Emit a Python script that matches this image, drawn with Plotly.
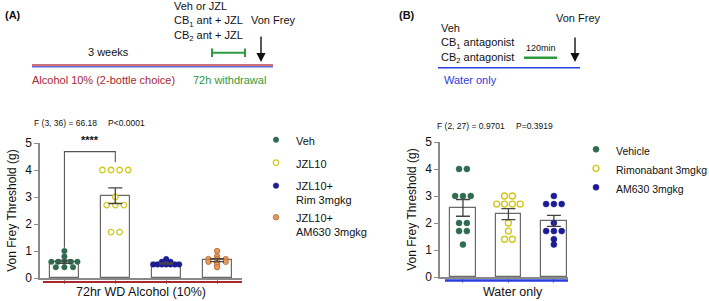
import numpy as np
import plotly.graph_objects as go

# ---------------- data ----------------
left_labels = ["Veh", "JZL10", "JZL10+<br>Rim 3mgkg", "JZL10+<br>AM630 3mgkg"]
veh_a = [1.0, 0.8, 0.6, 0.6, 0.6, 0.6, 0.6, 0.4, 0.4, 0.4]
jzl_a = [4.0, 4.0, 4.0, 4.0, 3.0, 2.7, 2.7, 2.7, 1.7, 1.7]
rim_a = [0.7, 0.6, 0.6, 0.5, 0.5, 0.5, 0.5, 0.5, 0.5, 0.5]
am_a = [1.0, 0.8, 0.7, 0.7, 0.7, 0.6, 0.6, 0.6, 0.5, 0.4]

right_labels = ["Vehicle", "Rimonabant 3mgkg", "AM630 3mgkg"]
veh_b = [4.0, 4.0, 3.0, 3.0, 3.0, 2.0, 2.0, 1.7, 1.7, 1.2]
rim_b = [3.0, 3.0, 2.7, 2.7, 2.7, 2.7, 2.0, 1.7, 1.4, 1.4]
am_b = [3.0, 2.7, 2.7, 2.7, 2.0, 1.7, 1.7, 1.7, 1.4, 1.2]

y_ticks = [0, 1, 2, 3, 4, 5]
left_stats = ["F (3, 36) = 66.18", "P<0.0001"]
right_stats = ["F (2, 27) = 0.9701", "P=0.3919"]

# ---------------- helpers ----------------
W, H = 709, 301
FONT = "Liberation Sans, Arial, sans-serif"


def px(x):
    return x / W


def py(y):
    return 1 - y / H


def swarm(vals, center, px_per_unit, d_px, max_span):
    vals = np.asarray(vals, float)
    xs = np.zeros(len(vals))
    keys = np.round(vals, 3)
    for k in np.unique(keys):
        idx = np.where(keys == k)[0]
        n = len(idx)
        sp = d_px if n < 2 else min(d_px, max_span / (n - 1))
        for j, i in enumerate(idx):
            xs[i] = center + (j - (n - 1) / 2) * sp / px_per_unit
    return xs


def sem(v):
    v = np.asarray(v, float)
    return v.std(ddof=1) / np.sqrt(len(v))


fig = go.Figure()

GREEN = "#2f6b4f"
YELLOW = "#d2c81c"
NAVY = "#1c1c96"
ORANGE = "#e39a62"

left_sets = [veh_a, jzl_a, rim_a, am_a]
left_styles = [
    dict(color=GREEN, size=5.5, line=dict(color=GREEN, width=0.5)),
    dict(color="white", size=5.5, line=dict(color=YELLOW, width=1.3)),
    dict(color=NAVY, size=5.5, line=dict(color=NAVY, width=0.5)),
    dict(color=ORANGE, size=5.5, line=dict(color="#b5662d", width=0.8)),
]
left_groups = ["g1", "g2", "g3", "g3"]
right_sets = [veh_b, rim_b, am_b]
right_styles = [
    dict(color=GREEN, size=6, line=dict(color=GREEN, width=0.5)),
    dict(color="white", size=6, line=dict(color=YELLOW, width=1.4)),
    dict(color=NAVY, size=6, line=dict(color=NAVY, width=0.5)),
]

BAR_LINE = dict(color="#6a6a6a", width=1.2)

# ---- left panel ----
lx = list(range(len(left_sets)))
lmeans = [float(np.mean(v)) for v in left_sets]
lsems = [float(sem(v)) for v in left_sets]
fig.add_trace(go.Bar(x=lx, y=lmeans, width=0.57, marker=dict(color="white", line=BAR_LINE),
                     xaxis="x", yaxis="y", showlegend=False, hoverinfo="skip"))
for i, (vals, lab, st, g) in enumerate(zip(left_sets, left_labels, left_styles, left_groups)):
    fig.add_trace(go.Scatter(x=swarm(vals, i, 50.9, 8.6, 26), y=vals, mode="markers", name=lab,
                             marker=st, xaxis="x", yaxis="y", legend="legend", legendgroup=g))
fig.add_trace(go.Scatter(x=lx, y=lmeans, mode="markers", marker=dict(size=1, color="rgba(0,0,0,0)"),
                         error_y=dict(type="data", array=lsems, color="#444", thickness=1.3, width=7),
                         xaxis="x", yaxis="y", showlegend=False, hoverinfo="skip"))

# ---- right panel ----
rx = list(range(len(right_sets)))
rmeans = [float(np.mean(v)) for v in right_sets]
rsems = [float(sem(v)) for v in right_sets]
fig.add_trace(go.Bar(x=rx, y=rmeans, width=0.56, marker=dict(color="white", line=BAR_LINE),
                     xaxis="x2", yaxis="y2", showlegend=False, hoverinfo="skip"))
for i, (vals, lab, st) in enumerate(zip(right_sets, right_labels, right_styles)):
    fig.add_trace(go.Scatter(x=swarm(vals, i, 45.5, 7.8, 24), y=vals, mode="markers", name=lab,
                             marker=st, xaxis="x2", yaxis="y2", legend="legend2"))
fig.add_trace(go.Scatter(x=rx, y=rmeans, mode="markers", marker=dict(size=1, color="rgba(0,0,0,0)"),
                         error_y=dict(type="data", array=rsems, color="#444", thickness=1.3, width=7),
                         xaxis="x2", yaxis="y2", showlegend=False, hoverinfo="skip"))

# ---- significance bracket (data coords derived from data) ----
b_top = max(jzl_a) + 0.68
b_l = max(veh_a) + 0.12
b_r = max(jzl_a) + 0.3
shapes = [
    dict(type="path", xref="x", yref="y",
         path=f"M 0 {b_l} L 0 {b_top} L 1 {b_top} L 1 {b_r}",
         line=dict(color="#555", width=1.1)),
]

# ---- timeline / decorative lines (paper) ----
def hline(x0, x1, y, color, width):
    return dict(type="line", xref="paper", yref="paper", x0=px(x0), x1=px(x1), y0=py(y), y1=py(y),
                line=dict(color=color, width=width))


def vline(x, y0, y1, color, width):
    return dict(type="line", xref="paper", yref="paper", x0=px(x), x1=px(x), y0=py(y0), y1=py(y1),
                line=dict(color=color, width=width))


TL_GREEN = "#2e9a40"
DARKRED = "#a8282f"
BLUE = "#2a3ce0"
shapes += [
    hline(32, 273, 65.0, "#c0404c", 1.6),
    hline(32, 273, 66.8, "#6a6ad6", 1.4),
    hline(212, 245, 52.7, TL_GREEN, 2),
    vline(212, 48.5, 57, TL_GREEN, 2),
    vline(245, 48.5, 57, TL_GREEN, 2),
    hline(43, 242, 282, DARKRED, 2.2),
    hline(438, 580, 67.7, BLUE, 1.5),
    hline(524, 557, 57.7, TL_GREEN, 2.5),
    hline(445, 568, 280.5, BLUE, 2.5),
]

ann = []


def text(x, y, t, size=11, color="#111", xanchor="left", yanchor="middle", bold=False, align="left"):
    ann.append(dict(x=px(x), y=py(y), xref="paper", yref="paper", text=(f"<b>{t}</b>" if bold else t),
                    showarrow=False, xanchor=xanchor, yanchor=yanchor, align=align,
                    font=dict(size=size, color=color, family=FONT)))


text(3, 15, "(A)", size=11, bold=True)
text(397, 15, "(B)", size=11, bold=True)
text(172, 21.7, "Veh or JZL<br>CB<sub>1</sub> ant + JZL<br>CB<sub>2</sub> ant + JZL", size=11)
text(249, 20, "Von Frey", size=11)
text(108, 52.5, "3 weeks", size=11, xanchor="center")
text(30, 79.5, "Alcohol 10% (2-bottle choice)", size=11, color=DARKRED)
text(191, 79.5, "72h withdrawal", size=11, color=TL_GREEN)

text(439, 43.5, "Veh<br>CB<sub>1</sub> antagonist<br>CB<sub>2</sub> antagonist", size=11)
text(554, 18, "Von Frey", size=11)
text(541, 48, "120min", size=9, xanchor="center")
text(442, 79.5, "Water only", size=11, color=BLUE)

text(32, 123, left_stats[0], size=8.5)
text(106, 123, left_stats[1], size=8.5)
text(435, 126, right_stats[0], size=8.5)
text(514, 126, right_stats[1], size=8.5)

text(141, 292, "72hr WD Alcohol (10%)", size=12.5, xanchor="center")
text(513, 292, "Water only", size=12.5, xanchor="center")

# stars and arrows
ann.append(dict(x=0.5, y=b_top + 0.12, xref="x", yref="y", text="<b>****</b>", showarrow=False,
                yanchor="bottom", font=dict(size=11, color="#111", family=FONT)))
for (ax_, y0, y1) in [(261, 35, 62), (575, 36, 62)]:
    ann.append(dict(x=px(ax_), y=py(y1), xref="paper", yref="paper", ax=0, ay=-(y1 - y0), text="",
                    showarrow=True, arrowhead=2, arrowsize=1.3, arrowwidth=1.4, arrowcolor="#111"))

axis_common = dict(showgrid=False, zeroline=False, showline=True, linecolor="#8a8a8a", linewidth=1.5,
                   ticks="outside", ticklen=4, tickwidth=1.2, tickcolor="#8a8a8a", automargin=False)

fig.update_layout(
    width=W, height=H, margin=dict(l=0, r=0, t=0, b=0, autoexpand=False),
    paper_bgcolor="white", plot_bgcolor="white",
    font=dict(family=FONT, color="#111"),
    xaxis=dict(domain=[px(40), px(242)], range=[-0.48, 3.49], tickvals=lx, showticklabels=False,
               anchor="y", **axis_common),
    yaxis=dict(domain=[py(278), py(143)], range=[0, 5], tickvals=y_ticks, anchor="x",
               tickfont=dict(size=12, color="#111"),
               title=dict(text="Von Frey Threshold (g)", font=dict(size=12, color="#111"), standoff=6),
               **axis_common),
    xaxis2=dict(domain=[px(440), px(568)], range=[-0.505, 2.31], tickvals=rx, showticklabels=False,
                anchor="y2", **axis_common),
    yaxis2=dict(domain=[py(277), py(142)], range=[0, 5], tickvals=y_ticks, anchor="x2",
                tickfont=dict(size=12, color="#111"),
                title=dict(text="Von Frey Threshold (g)", font=dict(size=12, color="#111"), standoff=6),
                **axis_common),
    legend=dict(x=px(256), y=py(126), xanchor="left", yanchor="top", valign="top",
                tracegroupgap=4,
                bgcolor="rgba(0,0,0,0)", borderwidth=0, font=dict(size=11, color="#111", family=FONT)),
    legend2=dict(x=px(576), y=py(136), xanchor="left", yanchor="top", valign="top",
                 bgcolor="rgba(0,0,0,0)", borderwidth=0, font=dict(size=10.5, color="#111", family=FONT)),
    shapes=shapes,
    annotations=ann,
    bargap=0,
)

fig.write_html("out.html",
               config={"displayModeBar": False},
               post_script="document.body.style.margin='0';document.body.style.padding='0';"
                           "document.body.style.overflow='hidden';")
